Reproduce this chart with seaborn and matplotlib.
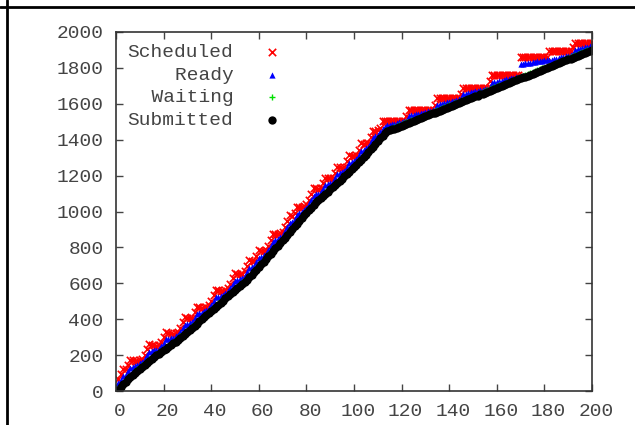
import numpy as np
import seaborn as sns
import matplotlib.pyplot as plt
import matplotlib.transforms as mtransforms
from matplotlib.lines import Line2D

# indice do job (1..200)
job = np.arange(1, 201)

submitted = [8, 22, 37, 51, 65, 78, 90, 102, 114, 125,
             136, 147, 157, 168, 178, 188, 198, 207, 217, 226,
             236, 245, 255, 265, 275, 285, 296, 307, 318, 329,
             341, 352, 364, 376, 388, 400, 412, 423, 435, 446,
             458, 470, 481, 493, 504, 516, 528, 539, 551, 563,
             574, 586, 598, 609, 621, 633, 647, 662, 676, 691,
             705, 720, 735, 750, 765, 780, 795, 810, 825, 840,
             855, 871, 886, 901, 917, 932, 947, 963, 978, 993,
             1008, 1022, 1037, 1051, 1063, 1075, 1087, 1099, 1111, 1123,
             1135, 1147, 1159, 1171, 1183, 1196, 1209, 1222, 1235, 1248,
             1261, 1275, 1289, 1303, 1317, 1331, 1346, 1361, 1376, 1392,
             1408, 1423, 1436, 1446, 1452, 1457, 1462, 1467, 1472, 1477,
             1483, 1488, 1493, 1499, 1504, 1509, 1514, 1520, 1525, 1530,
             1536, 1541, 1546, 1551, 1557, 1562, 1567, 1573, 1578, 1583,
             1588, 1594, 1599, 1604, 1609, 1615, 1620, 1625, 1631, 1636,
             1641, 1646, 1652, 1657, 1662, 1667, 1673, 1678, 1683, 1689,
             1694, 1699, 1704, 1710, 1715, 1720, 1725, 1731, 1736, 1741,
             1747, 1752, 1757, 1762, 1768, 1773, 1778, 1784, 1789, 1794,
             1799, 1805, 1810, 1815, 1820, 1826, 1831, 1836, 1842, 1847,
             1852, 1857, 1863, 1868, 1873, 1878, 1884, 1889, 1894, 1900]

waiting = [16, 30, 45, 59, 73, 86, 98, 110, 122, 133,
           144, 155, 165, 176, 186, 196, 206, 215, 225, 234,
           244, 253, 263, 273, 283, 293, 304, 315, 326, 337,
           349, 360, 372, 384, 396, 408, 420, 431, 443, 454,
           466, 478, 489, 501, 512, 524, 536, 547, 559, 571,
           582, 594, 606, 617, 629, 641, 655, 670, 684, 699,
           713, 728, 743, 758, 773, 788, 803, 818, 833, 848,
           863, 879, 894, 909, 925, 940, 955, 971, 986, 1001,
           1016, 1030, 1045, 1059, 1071, 1083, 1095, 1107, 1119, 1131,
           1143, 1155, 1167, 1179, 1191, 1204, 1217, 1230, 1243, 1256,
           1269, 1283, 1297, 1311, 1325, 1339, 1354, 1369, 1384, 1400,
           1416, 1431, 1444, 1454, 1460, 1465, 1470, 1475, 1480, 1485,
           1491, 1496, 1501, 1507, 1512, 1517, 1522, 1528, 1533, 1538,
           1544, 1549, 1554, 1559, 1565, 1570, 1575, 1581, 1586, 1591,
           1596, 1602, 1607, 1612, 1617, 1623, 1628, 1633, 1639, 1644,
           1649, 1654, 1660, 1665, 1670, 1675, 1681, 1686, 1691, 1697,
           1702, 1707, 1712, 1718, 1723, 1728, 1733, 1739, 1744, 1749,
           1755, 1760, 1765, 1770, 1776, 1781, 1786, 1792, 1797, 1802,
           1807, 1813, 1818, 1823, 1828, 1834, 1839, 1844, 1850, 1855,
           1860, 1865, 1871, 1876, 1881, 1886, 1892, 1897, 1902, 1908]

ready = [43, 64, 84, 91, 109, 130, 135, 140, 146, 154,
         163, 179, 199, 220, 223, 226, 230, 236, 251, 269,
         288, 290, 293, 297, 304, 312, 329, 350, 370, 374,
         378, 384, 406, 427, 432, 437, 444, 451, 462, 479,
         501, 522, 526, 531, 536, 545, 555, 572, 594, 615,
         619, 623, 630, 643, 664, 685, 691, 698, 719, 742,
         748, 756, 766, 784, 808, 832, 839, 847, 857, 868,
         889, 914, 938, 944, 959, 983, 990, 999, 1009, 1021,
         1042, 1065, 1089, 1095, 1100, 1107, 1127, 1149, 1153, 1159,
         1166, 1187, 1209, 1213, 1219, 1227, 1249, 1272, 1277, 1284,
         1292, 1315, 1339, 1345, 1353, 1362, 1386, 1411, 1418, 1428,
         1442, 1461, 1472, 1480, 1484, 1487, 1490, 1493, 1496, 1499,
         1503, 1506, 1531, 1535, 1538, 1541, 1544, 1548, 1551, 1554,
         1558, 1561, 1564, 1567, 1595, 1598, 1601, 1605, 1608, 1611,
         1614, 1618, 1621, 1624, 1627, 1653, 1656, 1659, 1663, 1666,
         1669, 1672, 1676, 1679, 1682, 1685, 1689, 1716, 1719, 1723,
         1726, 1729, 1732, 1736, 1739, 1742, 1745, 1749, 1752, 1822,
         1824, 1826, 1828, 1830, 1832, 1834, 1836, 1838, 1840, 1842,
         1844, 1843, 1846, 1849, 1852, 1856, 1859, 1862, 1866, 1869,
         1872, 1875, 1901, 1904, 1907, 1910, 1914, 1917, 1920, 1924]

scheduled = [68, 97, 122, 121, 143, 173, 170, 168, 169, 173,
             181, 202, 232, 263, 258, 254, 253, 255, 275, 302,
             331, 325, 321, 320, 323, 330, 352, 383, 413, 409,
             405, 407, 438, 468, 466, 464, 466, 470, 480, 502,
             534, 565, 561, 559, 559, 564, 573, 595, 627, 658,
             654, 650, 652, 667, 697, 728, 725, 724, 752, 783,
             781, 782, 787, 808, 841, 874, 873, 874, 879, 887,
             913, 947, 980, 977, 991, 1024, 1023, 1025, 1030, 1040,
             1066, 1098, 1131, 1129, 1127, 1129, 1157, 1189, 1186, 1185,
             1187, 1217, 1249, 1246, 1245, 1248, 1279, 1312, 1310, 1310,
             1313, 1345, 1379, 1378, 1379, 1383, 1416, 1451, 1451, 1454,
             1466, 1505, 1505, 1505, 1505, 1505, 1505, 1505, 1505, 1505,
             1505, 1530, 1565, 1565, 1565, 1565, 1565, 1565, 1565, 1565,
             1565, 1565, 1565, 1595, 1630, 1630, 1630, 1630, 1630, 1630,
             1630, 1630, 1630, 1630, 1655, 1690, 1690, 1690, 1690, 1690,
             1690, 1690, 1690, 1690, 1690, 1690, 1725, 1760, 1760, 1760,
             1760, 1760, 1760, 1760, 1760, 1760, 1760, 1760, 1760, 1860,
             1860, 1860, 1860, 1860, 1860, 1860, 1860, 1860, 1860, 1860,
             1860, 1895, 1895, 1895, 1895, 1895, 1895, 1895, 1895, 1895,
             1895, 1915, 1940, 1940, 1940, 1940, 1940, 1940, 1940, 1940]

sns.set_theme(style='ticks')
plt.rcParams['font.family'] = ['Liberation Mono', 'DejaVu Sans Mono']
plt.rcParams['font.size'] = 14
cinza = '#444444'

fig = plt.figure(figsize=(6.35, 4.25), dpi=100, facecolor='white')
ax = fig.add_axes([116 / 635, 1 - 391 / 425, 476 / 635, 359 / 425])

# ordem do gnuplot: o ultimo fica por cima
sns.scatterplot(x=job, y=scheduled, marker='x', color='#ff0000', s=28, linewidth=1.2, label='Scheduled', ax=ax)
sns.scatterplot(x=job, y=ready, marker='^', color='#0000ff', s=20, linewidth=0, label='Ready', ax=ax)
sns.scatterplot(x=job, y=waiting, marker='+', color='#00e000', s=18, linewidth=1.0, label='Waiting', ax=ax)
sns.scatterplot(x=job, y=submitted, marker='o', color='black', s=36, linewidth=0, label='Submitted', ax=ax)

ax.set_xlim(0, 200)
ax.set_ylim(0, 2000)
ax.set_xticks(range(0, 201, 20))
ax.set_yticks(range(0, 2001, 200))
ax.set_xlabel('')
ax.set_ylabel('')
ax.tick_params(direction='in', length=5, width=1, top=True, right=True,
               labelsize=14, labelcolor=cinza, color=cinza)
ax.tick_params(axis='y', pad=9)
ax.tick_params(axis='x', pad=9)
for sp in ax.spines.values():
    sp.set_visible(True)
    sp.set_color('#333333')
    sp.set_linewidth(1.2)

# rotulos do eixo x levemente deslocados para a direita (como no gnuplot)
desloc = mtransforms.ScaledTranslation(4 / 100, 0, fig.dpi_scale_trans)
for lbl in ax.get_xticklabels():
    lbl.set_transform(lbl.get_transform() + desloc)

# legenda estilo gnuplot: texto alinhado a direita, marcador depois
handles, labels = ax.get_legend_handles_labels()
labels = [l.rjust(9) for l in labels]
leg = ax.legend(handles, labels, loc='upper left', markerfirst=False, frameon=False,
                handlelength=2.0, handletextpad=1.0, labelspacing=0.25,
                borderaxespad=0.3, borderpad=0.3, fontsize=14)
for t in leg.get_texts():
    t.set_color(cinza)

# bordas da celula em volta da figura
fig.add_artist(Line2D([0, 1], [1 - 6.5 / 425] * 2, transform=fig.transFigure, color='black', lw=2))
fig.add_artist(Line2D([6.5 / 635] * 2, [0, 1], transform=fig.transFigure, color='black', lw=2))

fig.savefig('out.png', dpi=100)
plt.close()
